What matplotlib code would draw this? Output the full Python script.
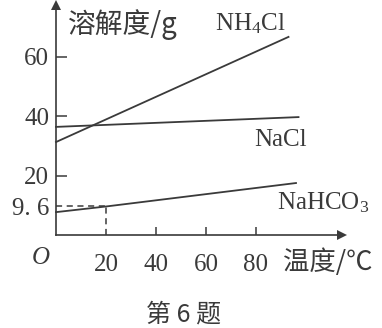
import matplotlib
matplotlib.use("Agg")
import matplotlib.pyplot as plt
import numpy as np

plt.rcParams["mathtext.fontset"] = "custom"
plt.rcParams["mathtext.rm"] = "Liberation Serif"
plt.rcParams["mathtext.it"] = "Liberation Serif:italic"

# data
nh4cl_t = [0, 93]
nh4cl_s = [31.3, 66.7]
nacl_t = [0, 97]
nacl_s = [36.4, 39.7]
nahco3_t = [0, 20, 96]
nahco3_s = [7.7, 9.6, 17.5]
yticks = [9.6, 20, 40, 60]
ytick_labels = ["9. 6", "20", "40", "60"]
xticks = [20, 40, 60, 80]
xtick_labels = ["20", "40", "60", "80"]

SERIF = ["Liberation Serif", "DejaVu Serif"]
CJK = ["Noto Sans CJK SC", "DejaVu Sans"]
C = "#3a3a3a"

W, H = 382, 328
fig = plt.figure(figsize=(W / 100, H / 100), dpi=100)
x0, y0 = 56, 235          # origin in pixels (from top-left)
xend, ytop = 342, 5
ax = fig.add_axes([x0 / W, (H - y0) / H, (xend - x0) / W, (y0 - ytop) / H])
ax.set_xlim(0, (xend - x0) / 2.5)
ax.set_ylim(0, (y0 - ytop) / 2.97)
for s in ["top", "right"]:
    ax.spines[s].set_visible(False)
for s in ["left", "bottom"]:
    ax.spines[s].set_color(C)
    ax.spines[s].set_linewidth(1.2)
ax.patch.set_alpha(0)

# arrows
ax.plot(1, 0, ">", transform=ax.transAxes, clip_on=False, color=C, ms=7, mew=0)
ax.plot(0, 1, "^", transform=ax.transAxes, clip_on=False, color=C, ms=7, mew=0)

ax.set_yticks(yticks)
ax.set_yticklabels(ytick_labels, fontfamily=SERIF, fontsize=18, color=C)
ax.set_xticks(xticks)
ax.set_xticklabels(xtick_labels, fontfamily=SERIF, fontsize=18, color=C)
ax.tick_params(axis="y", direction="in", length=8, width=1.1, color=C, pad=5)
ax.tick_params(axis="x", direction="in", length=6, width=1.1, color=C, pad=14)
ax.yaxis.get_major_ticks()[0].tick1line.set_visible(False)
ax.xaxis.get_major_ticks()[0].tick1line.set_visible(False)

lw = 1.3
ax.plot(nh4cl_t, nh4cl_s, color=C, lw=lw, clip_on=False)
ax.plot(nacl_t, nacl_s, color=C, lw=lw, clip_on=False)
ax.plot(nahco3_t, nahco3_s, color=C, lw=lw, clip_on=False)

# dashed guide lines at (20, 9.6)
ax.plot([0, nahco3_t[1]], [nahco3_s[1], nahco3_s[1]], color=C, lw=1.1, ls=(0, (4, 3)))
ax.plot([nahco3_t[1], nahco3_t[1]], [0, nahco3_s[1]], color=C, lw=1.1, ls=(0, (4, 3)))

def fx(px):
    return px / W
def fy(py):
    return 1 - py / H

fig.text(fx(68), fy(25), "溶解度/g", fontfamily=CJK, fontsize=20, color=C, va="center", ha="left")
fig.text(fx(215), fy(24), r"NH$_{\mathrm{4}}$Cl", fontfamily=SERIF, fontsize=18, color=C, va="center", ha="left")
fig.text(fx(254), fy(140), "NaCl", fontfamily=SERIF, fontsize=18, color=C, va="center", ha="left")
fig.text(fx(277), fy(203), r"NaHCO$_{\mathrm{3}}$", fontfamily=SERIF, fontsize=18, color=C, va="center", ha="left")
fig.text(fx(283), fy(262), "温度/℃", fontfamily=CJK, fontsize=19, color=C, va="center", ha="left")
fig.text(fx(41), fy(258), "O", fontfamily=SERIF, fontstyle="italic", fontsize=18, color=C, va="center", ha="center")
fig.text(fx(184), fy(315), "第 6 题", fontfamily=CJK, fontsize=18, color=C, va="center", ha="center")

fig.savefig("out.png", dpi=100)
